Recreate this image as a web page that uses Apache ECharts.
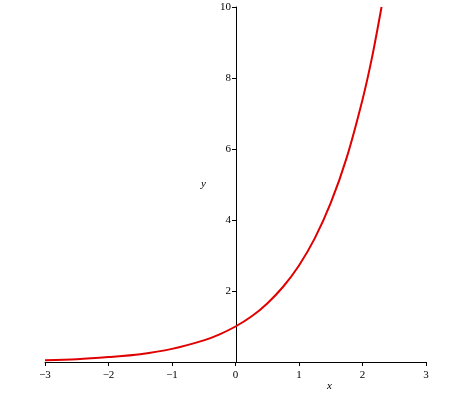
<!DOCTYPE html>
<html>
<head>
<meta charset="utf-8">
<script src="https://cdn.jsdelivr.net/npm/echarts@6/dist/echarts.min.js"></script>
<style>html,body{margin:0;padding:0;background:#fff}#main{width:474px;height:400px}</style>
</head>
<body>
<div id="main"></div>
<script>
var myChart = echarts.init(document.getElementById('main'));

// values
var xs = [-3, -2.5, -2, -1.5, -1, -0.5, -0.25, 0, 0.25, 0.5, 0.75, 1, 1.25, 1.5, 1.75, 2, 2.15, 2.3];
var ys = [0.05, 0.08, 0.14, 0.22, 0.37, 0.61, 0.78, 1.0, 1.28, 1.65, 2.12, 2.72, 3.49, 4.48, 5.75, 7.39, 8.58, 10.0];
var xTicks = [-3, -2, -1, 0, 1, 2, 3];
var yTicks = [2, 4, 6, 8, 10];

var font = 'Liberation Serif';

option = {
    animation: false,
    grid: {left: 45, right: 48, top: 7, bottom: 38},
    xAxis: {
        type: 'value', min: -3, max: 3, interval: 1,
        axisLine: {onZero: true, lineStyle: {color: '#000'}},
        axisTick: {show: true, length: 4, lineStyle: {color: '#000'}},
        splitLine: {show: false},
        axisLabel: {
            color: '#000', fontFamily: font, fontSize: 11,
            formatter: function (v) { return xTicks.indexOf(v) >= 0 ? String(v).replace('-', '\u2212') : ''; }
        }
    },
    yAxis: {
        type: 'value', min: 0, max: 10, interval: 2,
        offset: -191,
        axisLine: {onZero: false, lineStyle: {color: '#000'}},
        axisTick: {show: true, length: 4, lineStyle: {color: '#000'}},
        splitLine: {show: false},
        axisLabel: {
            color: '#000', fontFamily: font, fontSize: 11, margin: 5,
            formatter: function (v) { return yTicks.indexOf(v) >= 0 ? String(v) : ''; }
        }
    },
    graphic: [
        {type: 'text', left: 327, top: 381, style: {text: 'x', font: 'italic 11px ' + font, fill: '#000'}},
        {type: 'text', left: 201, top: 179, style: {text: 'y', font: 'italic 11px ' + font, fill: '#000'}}
    ],
    series: [{
        type: 'line',
        smooth: 0.3,
        symbol: 'none',
        lineStyle: {color: '#e00000', width: 2},
        data: xs.map(function (x, i) { return [x, ys[i]]; })
    }]
};

myChart.setOption(option);
</script>
</body>
</html>
